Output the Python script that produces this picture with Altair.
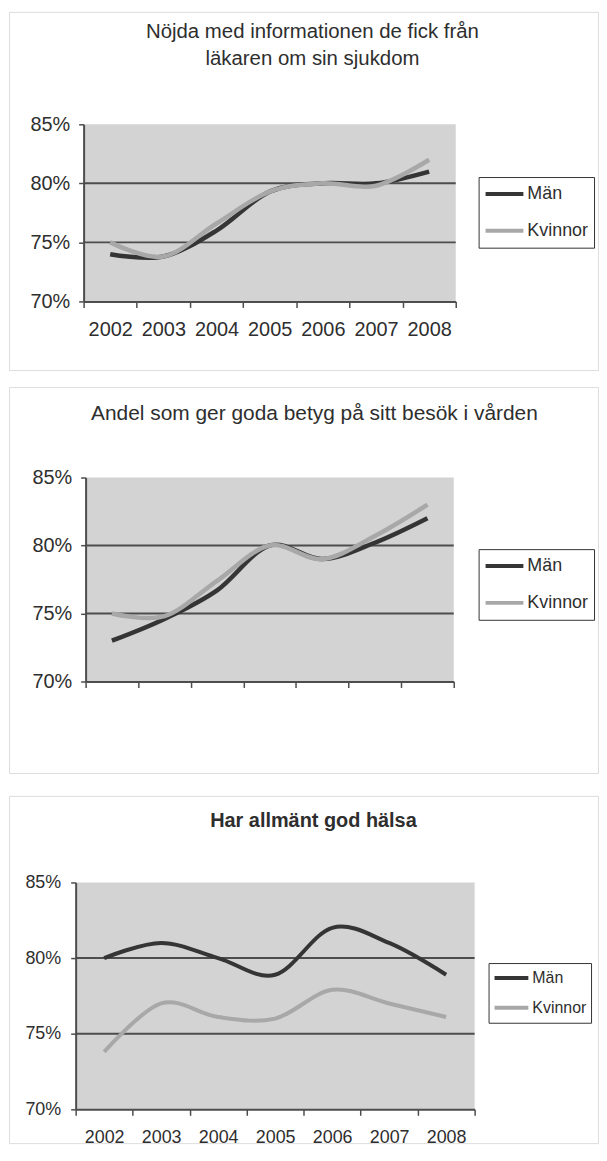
import altair as alt
import pandas as pd

# ---------------- data ----------------
years = [2002, 2003, 2004, 2005, 2006, 2007, 2008]
series_names = ["Män", "Kvinnor"]
series_colors = ["#353535", "#a8a8a8"]
y_ticks = [70, 75, 80, 85]
grid_values = [75, 80]

title_1 = ["Nöjda med informationen de fick från", "läkaren om sin sjukdom"]
man_1 = [74.0, 73.8, 76.0, 79.3, 80.0, 80.0, 81.0]
kvinnor_1 = [75.0, 73.8, 76.6, 79.3, 80.0, 79.8, 82.0]

title_2 = "Andel som ger goda betyg på sitt besök i vården"
man_2 = [73.0, 74.6, 76.7, 80.0, 79.0, 80.2, 82.0]
kvinnor_2 = [75.0, 74.8, 77.4, 80.0, 79.0, 80.7, 83.0]

title_3 = "Har allmänt god hälsa"
man_3 = [80.0, 81.0, 80.0, 78.9, 82.0, 81.0, 78.9]
kvinnor_3 = [73.8, 77.0, 76.1, 76.0, 77.9, 77.0, 76.1]

# ---------------- style ----------------
FONT = "Liberation Sans"
TEXT = "#2e2e2e"
PLOT_BG = "#d3d3d3"
GRID = "#4d4d4d"
AXIS = "#4d4d4d"
FRAME = "#3a3a3a"
VIEW_W = 592


def panel(man, kvinnor, title, view_h, x_range, y_range, title_fs, title_weight,
          title_offset, title_dx, tick_fs, show_x_labels, x_label_pad, y_label_pad,
          legend_x, legend_y, legend_fs, legend_pad, symbol_len, row_pad, clip_h, line_w):
    lo, hi = years[0] - 0.5, years[-1] + 0.5
    half = (x_range[1] - x_range[0]) / (2 * len(years))
    xs = alt.Scale(domain=[lo, hi], range=x_range, nice=False, zero=False)
    ys = alt.Scale(domain=[y_ticks[0], y_ticks[-1]], range=y_range, nice=False, zero=False)

    lines_df = pd.DataFrame({
        "år": years * 2,
        "andel": man + kvinnor,
        "kön": ["Män"] * len(years) + ["Kvinnor"] * len(years),
    })
    area_df = pd.DataFrame({"x0": [lo], "x1": [hi], "y0": [y_ticks[0]], "y1": [y_ticks[-1]]})
    grid_df = pd.DataFrame({"x0": [lo] * len(grid_values), "x1": [hi] * len(grid_values), "y": grid_values})

    x_kw = dict(
        values=[lo + i for i in range(len(years) + 1)],
        orient="bottom",
        offset=-(view_h - y_range[0]),
        domain=True, ticks=True,
        domainColor=AXIS, domainWidth=2,
        tickColor=AXIS, tickWidth=1.5, tickSize=6,
        grid=False, zindex=1,
    )
    if show_x_labels:
        x_kw.update(
            labels=True,
            labelExpr="datum.value < %d ? '' : toString(floor(datum.value))" % years[0],
            labelOffset=-half, labelFlush=False, labelOverlap=False, labelBound=False,
            labelPadding=x_label_pad, labelFontSize=tick_fs, labelFont=FONT, labelColor=TEXT,
        )
    else:
        x_kw.update(labels=False)
    x_axis = alt.Axis(**x_kw)

    y_axis = alt.Axis(
        values=y_ticks, orient="left", offset=-x_range[0],
        domain=True, ticks=True, labels=True,
        labelExpr="datum.value + '%'",
        domainColor=AXIS, domainWidth=2, tickColor=AXIS, tickWidth=1.5, tickSize=5,
        labelPadding=y_label_pad, labelFontSize=tick_fs, labelFont=FONT, labelColor=TEXT,
        labelFlush=False, labelOverlap=False, grid=False, zindex=1,
    )

    area = alt.Chart(area_df).mark_rect(color=PLOT_BG).encode(
        x=alt.X("x0:Q", scale=xs, axis=x_axis, title=""),
        x2="x1:Q",
        y=alt.Y("y0:Q", scale=ys, axis=y_axis, title=""),
        y2="y1:Q",
    )
    grid = alt.Chart(grid_df).mark_rule(color=GRID, strokeWidth=2).encode(
        x=alt.X("x0:Q", scale=xs, axis=x_axis, title=""),
        x2="x1:Q",
        y=alt.Y("y:Q", scale=ys, axis=y_axis, title=""),
    )

    color = alt.Color(
        "kön:N",
        scale=alt.Scale(domain=series_names, range=series_colors),
        title=None,
        legend=alt.Legend(
            orient="none", legendX=legend_x, legendY=legend_y,
            symbolType="stroke", symbolSize=symbol_len ** 2, symbolStrokeWidth=4,
            labelFontSize=legend_fs, labelFont=FONT, labelColor=TEXT, labelOffset=2,
            strokeColor="#333333", fillColor="white", padding=legend_pad,
            rowPadding=row_pad, clipHeight=clip_h,
        ),
    )

    def line(name):
        return alt.Chart(lines_df).transform_filter(alt.datum["kön"] == name).mark_line(
            interpolate="cardinal", strokeWidth=line_w
        ).encode(
            x=alt.X("år:Q", scale=xs, axis=x_axis, title=""),
            y=alt.Y("andel:Q", scale=ys, axis=y_axis, title=""),
            color=color,
        )

    return alt.layer(area, grid, line("Män"), line("Kvinnor")).properties(
        width=VIEW_W,
        height=view_h,
        title=alt.TitleParams(
            text=title, fontSize=title_fs, font=FONT, fontWeight=title_weight, color=TEXT,
            anchor="middle", offset=title_offset, dx=title_dx, lineHeight=27, baseline="top",
        ),
    )


p1 = panel(man_1, kvinnor_1, title_1, 360, [75, 449], [291, 113], 20.5, "normal", -58, 9,
           20, True, 12, 9, 472, 166, 18, 5, 38, 13, 24, 4.5)
p2 = panel(man_2, kvinnor_2, title_2, 388, [77, 447], [296, 91], 21, "normal", -37, 11,
           20, False, 12, 9, 472, 163, 18, 5, 38, 13, 24, 4.5)
p3 = panel(man_3, kvinnor_3, title_3, 349, [67, 468], [315, 87], 20, "bold", -35, 10,
           18, True, 13, 10, 482, 168, 16, 4, 34, 8, 22, 4)

top = alt.vconcat(p1, p2, spacing=15).resolve_scale(
    x="independent", y="independent", color="independent"
)
chart = alt.vconcat(top, p3, spacing=21).resolve_scale(
    x="independent", y="independent", color="independent"
).properties(padding=0, background="white").configure_view(
    stroke=FRAME, strokeWidth=2.5, fill="white"
).configure(font=FONT)

chart.save("out.html", embed_options={"renderer": "svg", "actions": False})
